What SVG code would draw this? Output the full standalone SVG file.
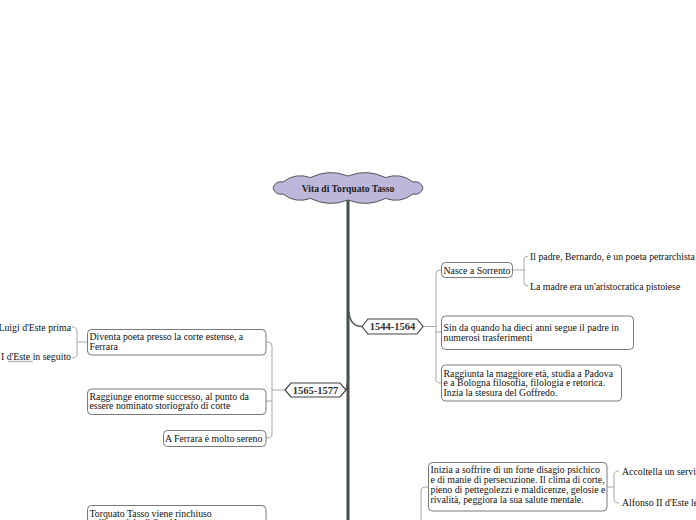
<svg xmlns="http://www.w3.org/2000/svg" width="696" height="520" viewBox="0 0 696 520">
<style>
.t{font-family:"Liberation Serif","Times New Roman",serif;font-size:9.8px;fill:#111}
.b{font-family:"Liberation Serif","Times New Roman",serif;font-size:9.6px;font-weight:bold;fill:#222}
.h{font-family:"Liberation Serif","Times New Roman",serif;font-size:10.5px;font-weight:bold;fill:#333}
.box{fill:#fff;stroke:#7a7a7a;stroke-width:1}
.hex{fill:#fff;stroke:#444;stroke-width:1.2}
.ln{fill:none;stroke:#a8a8a8;stroke-width:1}
.dk{fill:none;stroke:#555;stroke-width:1.5}
</style>
<rect width="696" height="520" fill="#fff"/>
<g id="connectors">
  <line x1="348" y1="200" x2="348" y2="520" stroke="#474d4d" stroke-width="3"/>
  <path class="dk" d="M349,312 Q350,326.5 362,326.5"/>
  <path class="dk" d="M348,380 L346,390"/>
  <path class="ln" d="M423,326.5 H436 M441,270 H440 Q436,270 436,274 V380 Q436,383 441,383 M436,332 H441"/>
  <path class="ln" d="M513,270 H524 M528,256 Q524,256 524,260 V282 Q524,286 528,286"/>
  <path class="ln" d="M285,390 H272 M266,342 H268 Q272,342 272,346 V434 Q272,438 266,438 M272,401 H266"/>
  <path class="ln" d="M87,342 H77 M72,327 Q77,327 77,331 V354 Q77,358 72,358"/>
  <line x1="8" y1="361.5" x2="33" y2="361.5" stroke="#bbb" stroke-width="1.5"/>
  <path class="ln" d="M428,487 H425 Q421,487 421,491 V520"/>
  <path class="ln" d="M607,487 H614 M619,471 Q614,471 614,475 V499 Q614,503 619,503"/>
</g>
<g id="root">
  <path d="M273,188 A8,8 0 0,1 283,182 A29,29 0 0,1 310.5,177.6 A46,46 0 0,1 348,176 A46,46 0 0,1 385.5,177.6 A29,29 0 0,1 413,182 A8,8 0 0,1 423,188 A8,8 0 0,1 413,194 A29,29 0 0,1 385.5,198.4 A46,46 0 0,1 348,200 A46,46 0 0,1 310.5,198.4 A29,29 0 0,1 283,194 A8,8 0 0,1 273,188 Z" fill="#bdb7dc" stroke="#555" stroke-width="1"/>
  <text class="b" x="348" y="191.5" text-anchor="middle">Vita di Torquato Tasso</text>
</g>
<g id="p1544">
  <polygon class="hex" points="362,326.5 368,319 417,319 423,326.5 417,334 368,334"/>
  <text class="h" x="392.5" y="330.2" text-anchor="middle">1544-1564</text>
</g>
<g id="nasce">
  <rect class="box" x="441.5" y="262.5" width="71" height="15" rx="4"/>
  <text class="t" x="443.5" y="273.5">Nasce a Sorrento</text>
</g>
<g id="padre"><text class="t" x="530" y="259.5">Il padre, Bernardo, è un poeta petrarchista</text></g>
<g id="madre"><text class="t" x="530" y="289.5">La madre era un'aristocratica pistoiese</text></g>
<g id="sin">
  <rect class="box" x="441.5" y="316" width="192" height="33.5" rx="4"/>
  <text class="t" x="443.5" y="330.5">Sin da quando ha dieci anni segue il padre in</text>
  <text class="t" x="443.5" y="340.5">numerosi trasferimenti</text>
</g>
<g id="raggiunta">
  <rect class="box" x="441.5" y="365" width="180" height="36" rx="4"/>
  <text class="t" x="443.5" y="376.5">Raggiunta la maggiore età, studia a Padova</text>
  <text class="t" x="443.5" y="386">e a Bologna filosofia, filologia e retorica.</text>
  <text class="t" x="443.5" y="395.5">Inzia la stesura del Goffredo.</text>
</g>
<g id="p1565">
  <polygon class="hex" points="285,390 291,383 340,383 346,390 340,397 291,397"/>
  <text class="h" x="315.5" y="393.7" text-anchor="middle">1565-1577</text>
</g>
<g id="diventa">
  <rect class="box" x="87.5" y="329.5" width="178.5" height="25.5" rx="4"/>
  <text class="t" x="89.5" y="340">Diventa poeta presso la corte estense, a</text>
  <text class="t" x="89.5" y="349.5">Ferrara</text>
</g>
<g id="luigi"><text class="t" x="71" y="330.5" text-anchor="end">Luigi d'Este prima</text></g>
<g id="alfonso1"><text class="t" x="71" y="360" text-anchor="end">I d'Este in seguito</text></g>
<g id="raggiunge">
  <rect class="box" x="87.5" y="389" width="178.5" height="25.5" rx="4"/>
  <text class="t" x="89.5" y="399.5">Raggiunge enorme successo, al punto da</text>
  <text class="t" x="89.5" y="409">essere nominato storiografo di corte</text>
</g>
<g id="ferrara">
  <rect class="box" x="163.5" y="430.5" width="102.5" height="16" rx="4"/>
  <text class="t" x="165" y="441.7">A Ferrara è molto sereno</text>
</g>
<g id="inizia">
  <rect class="box" x="428.5" y="462.5" width="178.5" height="48.5" rx="4"/>
  <text class="t" x="430.5" y="473">Inizia a soffrire di un forte disagio psichico</text>
  <text class="t" x="430.5" y="483">e di manie di persecuzione. Il clima di corte,</text>
  <text class="t" x="430.5" y="493">pieno di pettegolezzi e maldicenze, gelosie e</text>
  <text class="t" x="430.5" y="503">rivalità, peggiora la sua salute mentale.</text>
</g>
<g id="accoltella"><text class="t" x="622" y="474.5">Accoltella un servi</text></g>
<g id="alfonso2"><text class="t" x="622" y="506">Alfonso II d'Este le</text></g>
<g id="rinchiuso">
  <rect class="box" x="87.5" y="505.5" width="178.5" height="30" rx="4"/>
  <text class="t" x="89.5" y="516.5">Torquato Tasso viene rinchiuso</text>
  <text class="t" x="89.5" y="526">nell'ospedale di Sant'Anna</text>
</g>
</svg>
